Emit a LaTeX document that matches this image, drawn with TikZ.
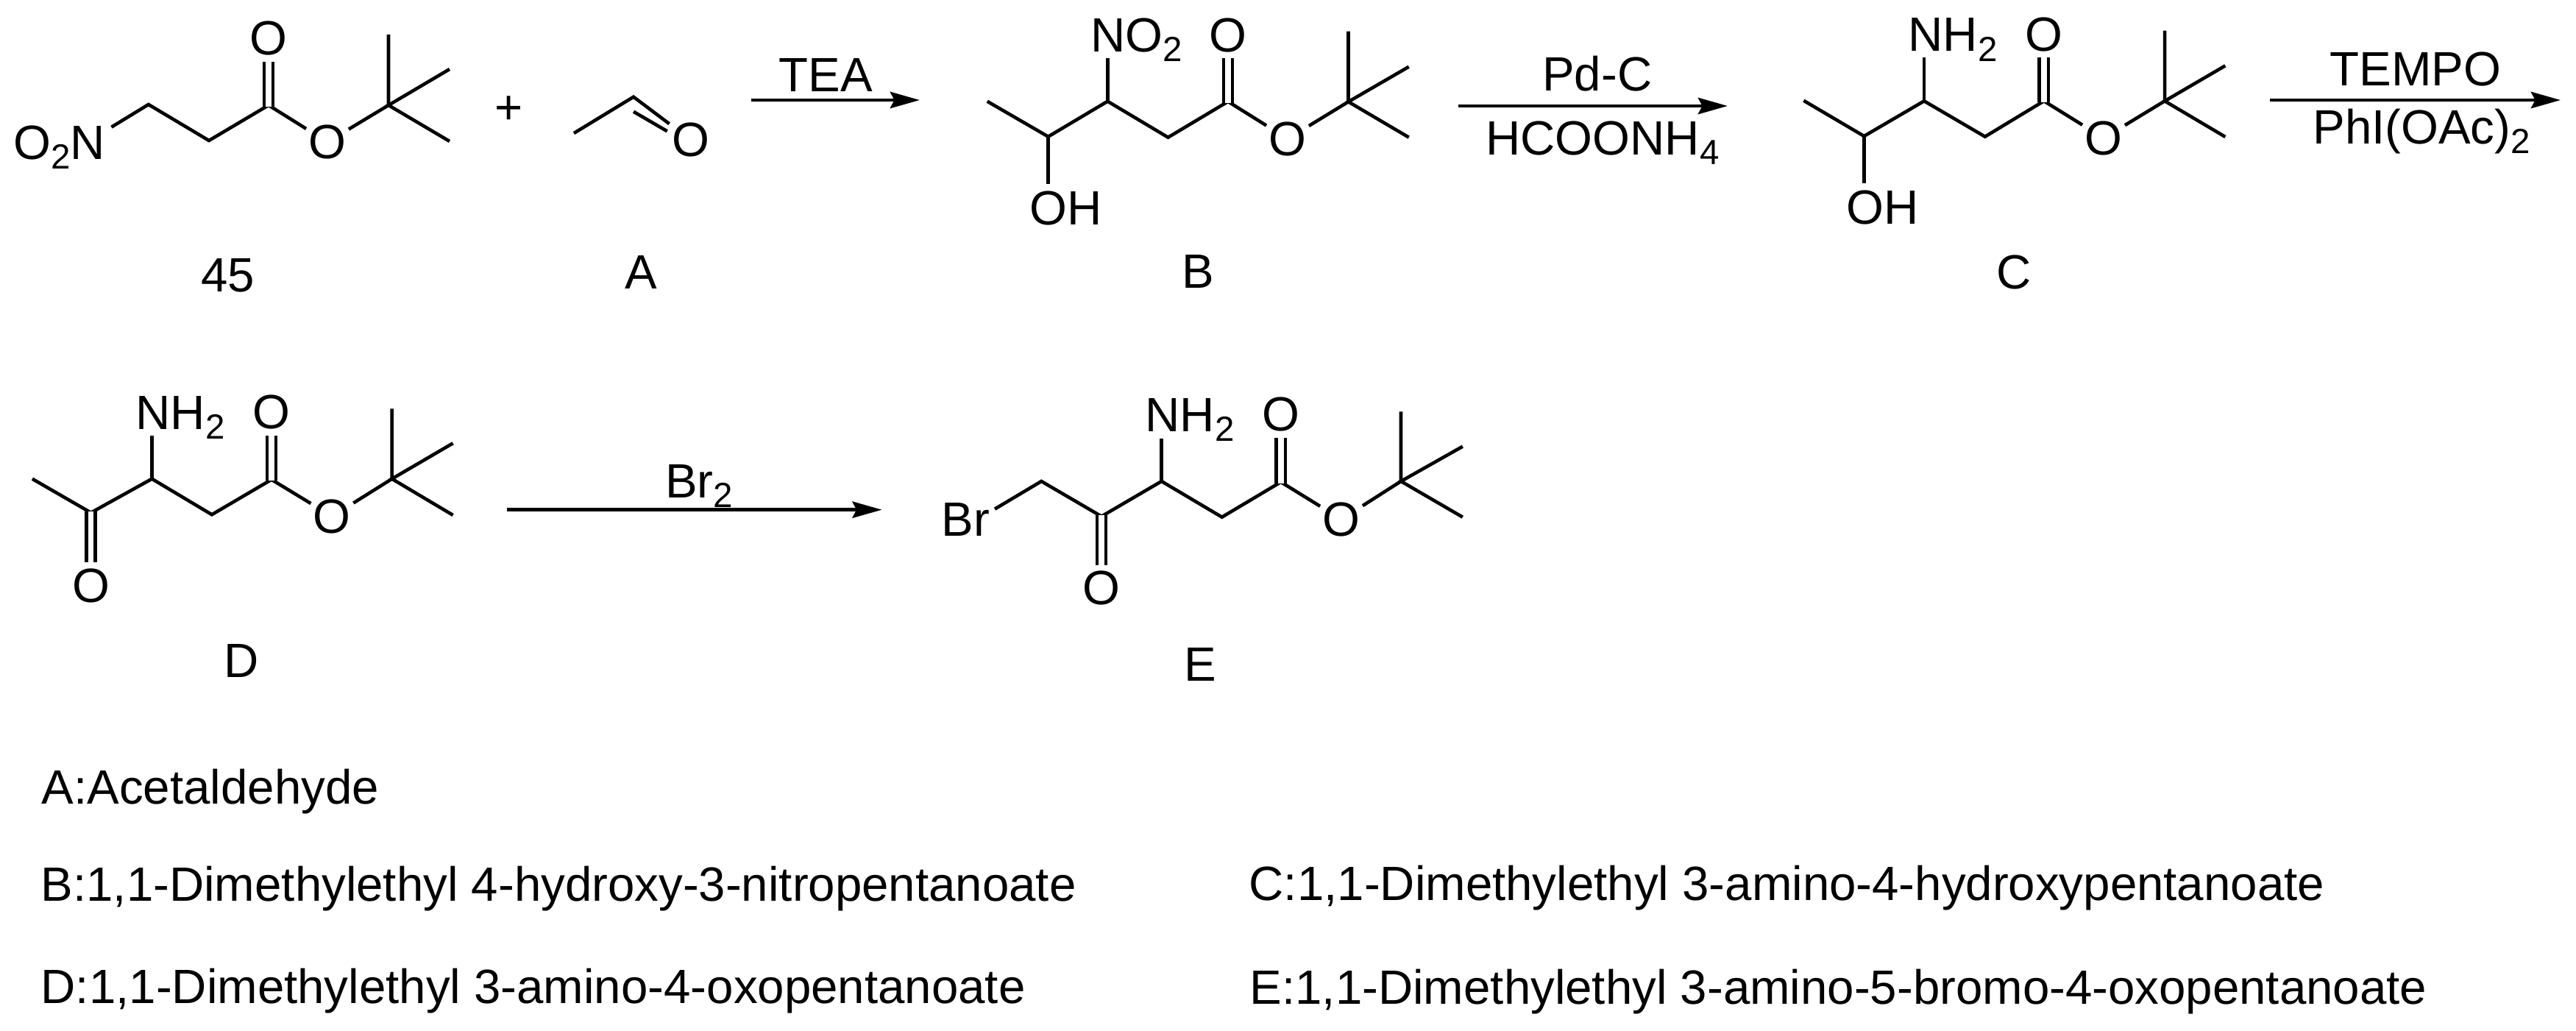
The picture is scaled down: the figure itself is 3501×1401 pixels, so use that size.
\documentclass[tikz,border=0pt]{standalone}
\usepackage{fontspec}
\setmainfont{Liberation Sans}
\usetikzlibrary{arrows.meta}
\newcommand{\chsub}[1]{\raisebox{-0.2em}{\fontsize{13.5}{13}\selectfont #1}}
\tikzset{
  bond/.style={line width=1.3pt},
  dbond/.style={double, double distance=2.2pt, line width=1.3pt, shorten <=-0.5pt},
  oatom/.style={inner xsep=0.8pt, inner ysep=2.2pt},
  chem/.style={anchor=base west, inner sep=0pt},
  lab/.style={anchor=base, inner sep=0pt},
  rxn/.style={line width=1.4pt, -{Stealth[length=11.4pt, width=6.3pt, inset=1.6pt]}},
  every node/.style={font=\fontsize{18.6}{22}\selectfont}
}
\begin{document}
\begin{tikzpicture}[x=0.01cm, y=-0.01cm]
  \useasboundingbox (0, 0) rectangle (3501, 1401);

  % compound 45
  \node[chem] (n45) at (18, 216.7) {O\chsub{2}N};
  \coordinate (n45end) at (151.5, 172.7);
  \coordinate (a1) at (201.8, 142);
  \coordinate (a2) at (284, 191);
  \coordinate (a3) at (365, 143);
  \node[oatom] (a4) at (365, 52) {O};
  \node[oatom] (a5) at (445, 193) {O};
  \coordinate (a6) at (528, 143);
  \coordinate (a7) at (528, 47);
  \coordinate (a8) at (611, 94);
  \coordinate (a9) at (611, 192);
  \draw[bond] (n45end) -- (a1) -- (a2) -- (a3) -- (a5) -- (a6) -- (a7);
  \draw[bond] (a8) -- (a6) -- (a9);
  \draw[dbond] (a3) -- (a4);
  \node[lab] (lab45) at (310, 396.7) {45};

  \node[lab] (plus) at (692, 169) {+};

  % acetaldehyde
  \coordinate (e1) at (780, 181);
  \coordinate (e2) at (861, 131.7);
  \node[oatom] (e3) at (938.6, 190) {O};
  \coordinate (e4) at (861, 151.7);
  \coordinate (e5) at (906.7, 178.3);
  \draw[bond] (e1) -- (e2) -- (e3);
  \draw[bond] (e4) -- (e5);
  \node[lab] (labA) at (870.8, 392.7) {A};

  \coordinate (r1s) at (1020.7, 136);
  \coordinate (r1e) at (1250, 136);
  \draw[rxn] (r1s) -- (r1e);
  \node[lab] (r1t) at (1122, 125) {TEA};

  % compound B
  \coordinate (b1) at (1341.7, 137.7);
  \coordinate (b2) at (1424.6, 185.7);
  \coordinate (b3) at (1424.6, 250);
  \node[chem] (b4) at (1399, 306) {OH};
  \coordinate (b5) at (1505.3, 137.7);
  \coordinate (b6) at (1505.3, 79);
  \node[chem] (b7) at (1482, 70.7) {NO\chsub{2}};
  \coordinate (b8) at (1587.5, 186.7);
  \coordinate (b9) at (1669, 138);
  \node[oatom] (b10) at (1669, 47.7) {O};
  \node[oatom] (b11) at (1750, 188.7) {O};
  \coordinate (b12) at (1832.5, 138.3);
  \coordinate (b13) at (1832.5, 42.7);
  \coordinate (b14) at (1914.7, 90.7);
  \coordinate (b15) at (1914.7, 186.7);
  \draw[bond] (b1) -- (b2) -- (b5) -- (b8) -- (b9) -- (b11) -- (b12) -- (b13);
  \draw[bond] (b2) -- (b3);
  \draw[bond] (b5) -- (b6);
  \draw[bond] (b14) -- (b12) -- (b15);
  \draw[dbond] (b9) -- (b10);
  \node[lab] (labB) at (1628.6, 391.7) {B};

  \coordinate (r2s) at (1981.5, 144);
  \coordinate (r2e) at (2348, 144);
  \draw[rxn] (r2s) -- (r2e);
  \node[lab] (r2t) at (2170.8, 124) {Pd-C};
  \node[lab] (r2b) at (2178, 210.7) {HCOONH\chsub{4}};

  % compound C
  \coordinate (c1) at (2451.3, 136.7);
  \coordinate (c2) at (2533.4, 185);
  \coordinate (c3) at (2533.4, 249.3);
  \node[chem] (c4) at (2509, 305) {OH};
  \coordinate (c5) at (2615, 137.3);
  \coordinate (c6) at (2615, 78.3);
  \node[chem] (c7) at (2593, 70) {NH\chsub{2}};
  \coordinate (c8) at (2697.8, 185.7);
  \coordinate (c9) at (2777.8, 137.3);
  \node[oatom] (c10) at (2777.8, 46.7) {O};
  \node[oatom] (c11) at (2859, 187.7) {O};
  \coordinate (c12) at (2942, 137.3);
  \coordinate (c13) at (2942, 41.7);
  \coordinate (c14) at (3024.3, 89.3);
  \coordinate (c15) at (3024.3, 186);
  \draw[bond] (c1) -- (c2) -- (c5) -- (c8) -- (c9) -- (c11) -- (c12) -- (c13);
  \draw[bond] (c2) -- (c3);
  \draw[bond] (c5) -- (c6);
  \draw[bond] (c14) -- (c12) -- (c15);
  \draw[dbond] (c9) -- (c10);
  \node[lab] (labC) at (2737, 392.7) {C};

  \coordinate (r3s) at (3085.4, 136);
  \coordinate (r3e) at (3480, 136);
  \draw[rxn] (r3s) -- (r3e);
  \node[lab] (r3t) at (3283, 116.7) {TEMPO};
  \node[lab] (r3b) at (3291, 195.7) {PhI(OAc)\chsub{2}};

  % compound D
  \coordinate (d1) at (43.9, 650.7);
  \coordinate (d2) at (123.6, 696.7);
  \node[oatom] (d3) at (123.6, 796) {O};
  \coordinate (d4) at (206.5, 650.7);
  \coordinate (d5) at (206.5, 591.7);
  \node[chem] (d6) at (184, 583.3) {NH\chsub{2}};
  \coordinate (d7) at (287.9, 699.3);
  \coordinate (d8) at (369, 651.7);
  \node[oatom] (d9) at (369, 560) {O};
  \node[oatom] (d10) at (451.4, 701.7) {O};
  \coordinate (d11) at (532.7, 650.7);
  \coordinate (d12) at (532.7, 555.3);
  \coordinate (d13) at (615.6, 602.3);
  \coordinate (d14) at (615.6, 700);
  \draw[bond] (d1) -- (d2) -- (d4) -- (d7) -- (d8) -- (d10) -- (d11) -- (d12);
  \draw[bond] (d4) -- (d5);
  \draw[bond] (d13) -- (d11) -- (d14);
  \draw[dbond] (d2) -- (d3);
  \draw[dbond] (d8) -- (d9);
  \node[lab] (labD) at (328.5, 920) {D};

  \coordinate (r4s) at (689, 692.7);
  \coordinate (r4e) at (1198.6, 692.7);
  \draw[rxn] (r4s) -- (r4e);
  \node[lab] (r4t) at (950, 676.7) {Br\chsub{2}};

  % compound E
  \node[chem] (f1) at (1279, 728.3) {Br};
  \coordinate (f2) at (1352, 691.7);
  \coordinate (f3) at (1415.3, 654);
  \coordinate (f4) at (1497, 701.7);
  \node[oatom] (f5) at (1497, 799.3) {O};
  \coordinate (f6) at (1578.6, 654);
  \coordinate (f7) at (1578.6, 595.7);
  \node[chem] (f8) at (1556, 586.7) {NH\chsub{2}};
  \coordinate (f9) at (1660.7, 702.7);
  \coordinate (f10) at (1740.8, 655);
  \node[oatom] (f11) at (1740.8, 563.3) {O};
  \node[oatom] (f12) at (1823, 705.7) {O};
  \coordinate (f13) at (1904, 654);
  \coordinate (f14) at (1904, 559.3);
  \coordinate (f15) at (1987.8, 606.7);
  \coordinate (f16) at (1987.8, 702.7);
  \draw[bond] (f2) -- (f3) -- (f4) -- (f6) -- (f9) -- (f10) -- (f12) -- (f13) -- (f14);
  \draw[bond] (f6) -- (f7);
  \draw[bond] (f15) -- (f13) -- (f16);
  \draw[dbond] (f4) -- (f5);
  \draw[dbond] (f10) -- (f11);
  \node[lab] (labE) at (1631, 925.7) {E};

  % compound names
  \node[chem] (t1) at (56, 1092.7) {A:Acetaldehyde};
  \node[chem] (t2) at (55, 1224) {B:1,1-Dimethylethyl 4-hydroxy-3-nitropentanoate};
  \node[chem] (t3) at (1697, 1223) {C:1,1-Dimethylethyl 3-amino-4-hydroxypentanoate};
  \node[chem] (t4) at (55, 1363) {D:1,1-Dimethylethyl 3-amino-4-oxopentanoate};
  \node[chem] (t5) at (1698, 1364) {E:1,1-Dimethylethyl 3-amino-5-bromo-4-oxopentanoate};
\end{tikzpicture}
\end{document}
